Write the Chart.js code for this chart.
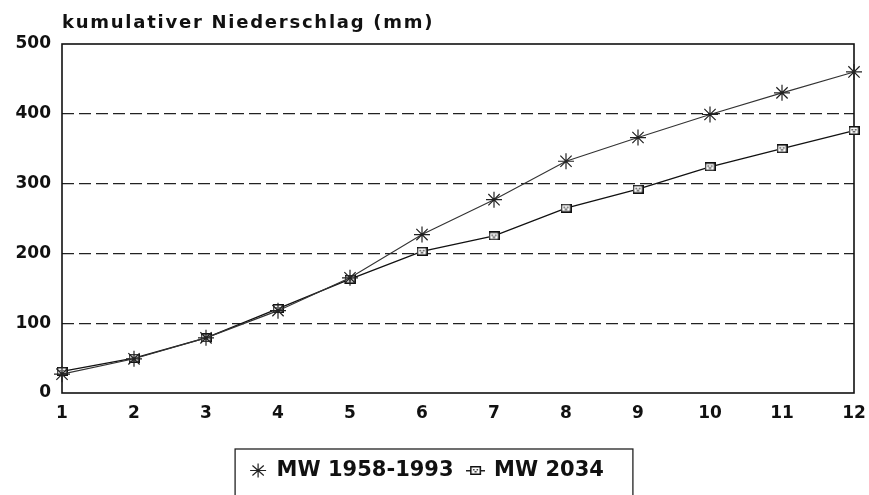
<!DOCTYPE html>
<html>
<head>
<meta charset="utf-8">
<script src="https://cdn.jsdelivr.net/npm/chart.js@4"></script>
<style>
  html, body { margin: 0; padding: 0; background: #fff; }
  canvas { display: block; }
</style>
</head>
<body>
<canvas id="niederschlag" width="869" height="495"></canvas>
<script>
// Monate 1..12, kumulierte Monatssummen in mm
var monate = ["1", "2", "3", "4", "5", "6", "7", "8", "9", "10", "11", "12"];
var mw19581993 = [27, 49, 79, 118, 165, 227, 277, 332, 366, 399, 430, 460];
var mw2034 = [31, 50, 79, 121, 163, 203, 225, 265, 292, 324, 350, 376];
var yTicks = [0, 100, 200, 300, 400, 500];
var titel = "kumulativer Niederschlag (mm)";

var schrift = "'DejaVu Sans', sans-serif";

// kleines Kaestchen-Symbol fuer MW 2034 (optional mit Linie fuer die Legende)
function kaestchen(mitLinie) {
  var w = 11, h = 9;
  var c = document.createElement("canvas");
  var total = mitLinie ? w + 8 : w;
  c.width = total;
  c.height = h;
  var g = c.getContext("2d");
  var x0 = (total - w) / 2;
  if (mitLinie) {
    g.fillStyle = "#222";
    g.fillRect(0, Math.floor(h / 2), total, 1.5);
  }
  g.fillStyle = "#fff";
  g.fillRect(x0, 0, w, h);
  g.strokeStyle = "#111";
  g.lineWidth = 1.5;
  g.strokeRect(x0 + 0.75, 0.75, w - 1.5, h - 1.5);
  g.fillStyle = "#333";
  g.fillRect(x0 + 3, 3, 1.5, 1.5);
  g.fillRect(x0 + 6.5, 3, 1.5, 1.5);
  g.fillRect(x0 + 4.5, 5, 2, 1.5);
  return c;
}
var kaestchenPunkt = kaestchen(false);
var kaestchenLegende = kaestchen(true);

// Rahmen um die Zeichenflaeche, Titel oben links und Kasten um die Legende
var rahmen = {
  id: "rahmen",
  beforeDatasetsDraw: function (chart) {
    var a = chart.chartArea, ctx = chart.ctx;
    ctx.save();
    ctx.strokeStyle = "#111";
    ctx.lineWidth = 1.6;
    ctx.strokeRect(a.left, a.top, a.right - a.left, a.bottom - a.top);
    ctx.restore();
  },
  afterDraw: function (chart) {
    var a = chart.chartArea, ctx = chart.ctx;
    ctx.save();
    ctx.fillStyle = "#111";
    ctx.font = "bold 18px " + schrift;
    ctx.letterSpacing = "1.75px";
    ctx.textBaseline = "alphabetic";
    ctx.fillText(titel, a.left, 28);
    ctx.letterSpacing = "0px";

    var boxes = chart.legend.legendHitBoxes;
    if (boxes && boxes.length) {
      var x1 = Infinity, y1 = Infinity, x2 = -Infinity, y2 = -Infinity;
      boxes.forEach(function (b) {
        x1 = Math.min(x1, b.left);
        y1 = Math.min(y1, b.top);
        x2 = Math.max(x2, b.left + b.width);
        y2 = Math.max(y2, b.top + b.height);
      });
      ctx.strokeStyle = "#222";
      ctx.lineWidth = 1.3;
      ctx.strokeRect(x1 - 15, y1 - 11, x2 - x1 + 44, y2 - y1 + 28);
    }
    ctx.restore();
  }
};

new Chart(document.getElementById("niederschlag"), {
  type: "line",
  data: {
    labels: monate,
    datasets: [
      {
        label: "MW 1958-1993",
        data: mw19581993,
        borderColor: "#333",
        borderWidth: 1.1,
        pointStyle: "star",
        pointRadius: 8,
        pointBorderColor: "#222",
        pointBorderWidth: 1.2,
        pointBackgroundColor: "#222",
        tension: 0
      },
      {
        label: "MW 2034",
        data: mw2034,
        borderColor: "#111",
        borderWidth: 1.3,
        pointStyle: kaestchenPunkt,
        pointRadius: 6,
        tension: 0
      }
    ]
  },
  options: {
    responsive: false,
    animation: false,
    layout: { padding: { left: 0, right: 15, top: 44, bottom: 4 } },
    plugins: {
      title: { display: false },
      tooltip: { enabled: false },
      legend: {
        position: "bottom",
        labels: {
          usePointStyle: true,
          pointStyleWidth: 16,
          boxHeight: 10,
          padding: 14,
          color: "#111",
          font: { family: schrift, size: 21, weight: "bold" },
          generateLabels: function (chart) {
            return chart.data.datasets.map(function (ds, i) {
              return {
                text: ds.label,
                pointStyle: i === 0 ? "star" : kaestchenLegende,
                strokeStyle: "#222",
                fillStyle: "#222",
                lineWidth: 1.2,
                fontColor: "#111",
                datasetIndex: i
              };
            });
          }
        }
      }
    },
    scales: {
      x: {
        offset: false,
        grid: { display: false, drawTicks: false },
        border: { display: false },
        ticks: {
          padding: 10,
          color: "#111",
          maxRotation: 0,
          font: { family: schrift, size: 17, weight: "bold" }
        },
        afterFit: function (scale) {
          scale.height = 53;
          scale.paddingLeft = 0;
          scale.paddingRight = 0;
        }
      },
      y: {
        min: 0,
        max: 500,
        afterBuildTicks: function (scale) {
          scale.ticks = yTicks.map(function (v) { return { value: v }; });
        },
        grid: {
          drawTicks: false,
          lineWidth: 1.3,
          color: function (ctx) {
            var v = ctx.tick ? ctx.tick.value : 0;
            return (v === 0 || v === 500) ? "rgba(0,0,0,0)" : "#222";
          }
        },
        border: { display: false, dash: [12, 5] },
        ticks: {
          padding: 11,
          color: "#111",
          font: { family: schrift, size: 17, weight: "bold" }
        },
        afterFit: function (scale) { scale.width = 62; }
      }
    }
  },
  plugins: [rahmen]
});
</script>
</body>
</html>
